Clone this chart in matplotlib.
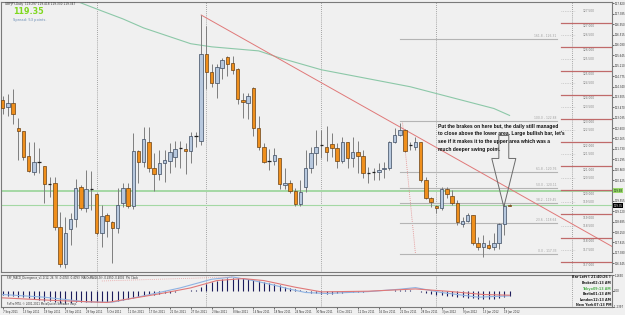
import numpy as np
import matplotlib.pyplot as plt
import matplotlib.transforms as mtransforms
from matplotlib.patches import Polygon

# daily GBPJPY candles, 7 Sep 2011 .. 20 Jan 2012
opens = [123.79, 123.50, 123.67, 122.62, 122.46, 121.42, 120.75, 121.17, 121.00, 120.25,
         120.29, 118.46, 116.92, 118.38, 118.79, 120.13, 119.25, 120.04, 119.83, 118.21,
         118.96, 118.67, 118.42, 119.46, 120.08, 119.33, 121.63, 121.17, 122.00, 120.92,
         120.67, 121.13, 121.21, 121.38, 121.75, 121.71, 121.63, 122.25, 122.08, 125.71,
         124.96, 124.50, 125.13, 125.58, 125.33, 125.08, 123.79, 123.67, 124.29, 122.62,
         121.83, 121.21, 121.21, 121.33, 120.21, 120.29, 119.96, 119.42, 120.13, 120.92,
         121.54, 121.88, 121.83, 121.92, 121.75, 121.21, 122.00, 121.33, 121.58, 121.42,
         120.71, 120.75, 120.75, 120.88, 120.92, 122.00, 122.33, 122.54, 121.88, 121.83,
         122.00, 120.42, 119.67, 119.33, 119.25, 120.04, 119.75, 119.46, 118.58, 118.71,
         118.96, 117.79, 117.63, 117.71, 117.63, 117.79, 118.58, 119.37]
highs = [123.96, 124.04, 124.25, 123.04, 122.46, 122.00, 122.00, 121.75, 121.02, 120.54,
         120.54, 119.08, 118.88, 119.04, 120.46, 120.21, 120.83, 120.79, 119.88, 119.38,
         119.04, 118.70, 120.08, 120.29, 120.29, 122.38, 121.67, 122.63, 122.63, 121.54,
         121.67, 121.67, 121.96, 122.08, 122.08, 121.96, 122.42, 122.42, 127.33, 126.88,
         125.29, 125.29, 125.54, 125.63, 125.63, 125.10, 124.08, 124.08, 124.30, 123.12,
         121.96, 121.71, 121.75, 121.35, 120.92, 120.42, 120.08, 120.42, 121.67, 121.79,
         122.50, 122.50, 122.67, 122.38, 121.96, 122.21, 122.02, 122.21, 122.08, 121.67,
         120.96, 120.92, 121.13, 121.17, 122.08, 122.62, 122.82, 122.56, 122.00, 122.21,
         122.02, 120.54, 119.71, 119.38, 120.13, 120.13, 120.00, 119.58, 118.88, 119.04,
         118.98, 118.04, 118.13, 117.92, 118.21, 118.63, 119.42, 119.42]
lows = [123.21, 123.12, 122.79, 121.25, 121.25, 120.75, 120.63, 120.71, 119.46, 119.71,
        118.33, 116.79, 116.75, 117.71, 118.46, 119.17, 119.08, 119.17, 118.13, 117.63,
        118.04, 116.96, 118.21, 119.29, 119.25, 119.21, 120.29, 120.96, 120.75, 119.96,
        120.42, 120.33, 120.71, 120.96, 120.92, 120.67, 121.13, 121.79, 121.88, 124.25,
        124.33, 123.87, 124.67, 124.79, 124.88, 123.62, 123.04, 122.96, 122.29, 121.67,
        121.13, 120.83, 121.04, 120.04, 120.04, 119.88, 119.33, 119.33, 119.92, 120.71,
        121.04, 121.33, 121.21, 121.38, 120.92, 121.13, 120.92, 120.96, 120.71, 120.50,
        120.29, 120.42, 120.42, 120.50, 120.83, 121.96, 122.29, 121.58, 121.67, 121.67,
        120.33, 119.63, 119.29, 119.04, 119.17, 119.67, 119.38, 118.54, 118.46, 118.67,
        117.71, 117.50, 117.21, 117.54, 117.50, 117.54, 118.13, 119.33]
closes = [123.46, 123.67, 123.21, 122.46, 121.38, 120.79, 121.17, 121.17, 120.25, 120.25,
          118.46, 116.92, 118.21, 118.79, 120.08, 119.25, 120.04, 120.04, 118.21, 118.92,
          118.71, 118.42, 119.38, 120.08, 119.33, 121.63, 121.17, 122.13, 120.92, 120.67,
          121.13, 121.25, 121.58, 121.71, 121.75, 121.63, 122.25, 122.25, 125.71, 124.96,
          124.50, 125.17, 125.46, 125.29, 125.04, 123.83, 123.71, 123.96, 122.62, 121.83,
          121.17, 121.21, 121.46, 120.25, 120.29, 119.96, 119.42, 119.92, 120.92, 121.54,
          121.83, 121.88, 121.58, 121.75, 121.21, 122.00, 121.33, 121.58, 121.42, 120.71,
          120.71, 120.75, 120.83, 120.92, 122.00, 122.33, 122.54, 121.63, 121.88, 122.00,
          120.42, 119.67, 119.50, 119.25, 120.04, 119.83, 119.46, 118.67, 118.71, 118.96,
          117.79, 117.63, 117.79, 117.58, 117.79, 118.58, 119.33, 119.35]

date_labels = ["7 Sep 2011", "13 Sep 2011", "19 Sep 2011", "23 Sep 2011", "29 Sep 2011",
               "5 Oct 2011", "11 Oct 2011", "17 Oct 2011", "21 Oct 2011", "27 Oct 2011",
               "2 Nov 2011", "8 Nov 2011", "14 Nov 2011", "18 Nov 2011", "24 Nov 2011",
               "30 Nov 2011", "6 Dec 2011", "12 Dec 2011", "16 Dec 2011", "22 Dec 2011",
               "28 Dec 2011", "3 Jan 2012", "9 Jan 2012", "13 Jan 2012", "19 Jan 2012"]
month_sep_bars = [18, 39, 61, 83, 109]

# green moving average
ma_bars = [12, 14, 19, 23, 27, 36, 40, 49, 53, 61, 78, 94, 97]
ma_vals = [128.05, 127.92, 127.50, 127.17, 126.79, 126.13, 126.00, 125.83, 125.54, 125.04, 124.33, 123.42, 123.13]

# red trend line anchors (bar, price)
trend_pts = [(38, 127.33), (76, 122.65)]
# fibonacci anchors: 100% and 0%
fib_hi = (76.5, 122.88)
fib_lo = (79.0, 117.33)
fib_levels = [0.0, 23.6, 38.2, 50.0, 61.8, 100.0, 161.8]
green_lines = [119.98, 119.38]
round_levels = [117, 118, 119, 120, 121, 122, 123, 124, 125, 126, 127]
price_ticks = [127.820, 127.385, 126.950, 126.515, 126.080, 125.645, 125.210, 124.775,
               124.340, 123.905, 123.470, 123.035, 122.600, 122.165, 121.730, 121.295,
               120.860, 120.425, 119.555, 119.120, 118.685, 118.250, 117.815,
               117.380, 116.945]

# MACD panel
hist = [-0.35, -0.38, -0.42, -0.46, -0.50, -0.58, -0.64, -0.70, -0.76, -0.80,
        -0.86, -0.92, -0.95, -0.94, -0.90, -0.88, -0.86, -0.86, -0.88, -0.86,
        -0.84, -0.82, -0.76, -0.70, -0.64, -0.55, -0.48, -0.40, -0.34, -0.30,
        -0.26, -0.20, -0.15, -0.10, -0.06, -0.03, 0.02, 0.06, 0.30, 0.50,
        0.62, 0.75, 0.85, 0.92, 0.98, 0.96, 0.92, 0.88, 0.80, 0.70,
        0.62, 0.54, 0.46, 0.38, 0.30, 0.20, 0.10, 0.02, -0.08, -0.15,
        -0.22, -0.26, -0.28, -0.26, -0.22, -0.18, -0.14, -0.12, -0.10, -0.08,
        -0.07, -0.06, -0.06, -0.05, -0.03, 0.02, 0.06, 0.05, 0.02, -0.02,
        -0.12, -0.20, -0.26, -0.32, -0.35, -0.38, -0.42, -0.46, -0.50, -0.54,
        -0.58, -0.60, -0.62, -0.62, -0.60, -0.55, -0.48, -0.44]
blue_bars = [0, 8, 16, 21, 27, 34, 40, 44, 48, 52, 55, 58, 62, 70, 76, 79, 84, 91, 97]
blue_vals = [-0.30, -0.50, -0.85, -0.88, -0.40, 0.20, 0.85, 1.02, 0.75, 0.40, 0.10, -0.15,
             -0.22, -0.08, 0.10, 0.22, -0.15, -0.50, -0.40]
red_bars = [0, 10, 20, 30, 36, 41, 46, 50, 56, 61, 70, 79, 85, 92, 97]
red_vals = [-0.55, -0.75, -0.90, -0.25, 0.20, 0.75, 0.90, 0.75, 0.25, -0.10, -0.05, 0.12,
            -0.05, -0.30, -0.35]

bg = '#f0f0f0'
bull_fill, bull_edge = '#b7c8de', '#3c4a60'
bear_fill, bear_edge = '#ef8f1c', '#6a4216'
tiny = 2.1

fig = plt.figure(figsize=(6.25, 3.15), dpi=100, facecolor=bg)
ax = fig.add_axes([1/625, 1-272/315, 611/625, 270/315])
mx = fig.add_axes([1/625, 1-307/315, 611/625, 32/315])
for a in (ax, mx):
    a.set_facecolor(bg)
    a.set_xlim(-0.3, 116.6)
    for s in a.spines.values():
        s.set_color('#7a7a7a')
        s.set_linewidth(0.8)
ax.set_ylim(116.58, 127.875)
mx.set_ylim(-1.24, 1.17)

n = len(opens)
bars = np.arange(n)
o, h, l, c = map(np.array, (opens, highs, lows, closes))

# period separators
for b in month_sep_bars:
    ax.axvline(b, color='#8a8a8a', lw=0.6, ls=(0, (1, 1.5)))
    mx.axvline(b, color='#8a8a8a', lw=0.6, ls=(0, (1, 1.5)))

# horizontal green levels
for i, g in enumerate(green_lines):
    ax.axhline(g, color='#a4d8a4', lw=1.4 if i == 0 else 0.8)

# moving average
ax.plot(ma_bars, ma_vals, color='#8cc8a8', lw=0.8)

# fibonacci
rng = fib_hi[1] - fib_lo[1]
ax.plot([fib_hi[0], fib_lo[0]], [fib_hi[1], fib_lo[1]], color='#e08080', lw=0.6, ls=(0, (1, 1.5)))
for lv in fib_levels:
    pr = fib_lo[1] + rng * lv / 100
    ax.plot([76, 106], [pr, pr], color='#b4b4b4', lw=0.8)
    ax.text(106, pr + 0.04, '%.1f - %.2f' % (lv, pr), fontsize=2.2, color='#a0a0a0',
            ha='right', va='bottom')

# trend line as a ray from the first anchor
(x0, y0), (x1, y1) = trend_pts
slope = (y1 - y0) / (x1 - x0)
xr = 116.6
ax.plot([x0, xr], [y0, y0 + slope * (xr - x0)], color='#e07878', lw=0.7)

# round number levels on the right
for lv in round_levels:
    ax.plot([106.8, 116.6], [lv, lv], color='#c06a6a', lw=0.9)
    ax.text(112.2, lv - 0.06, '%.3f' % lv, fontsize=tiny, color='#707070', ha='center', va='top')
    ax.plot([106.8, 109.5], [lv + 0.5, lv + 0.5], color='#b0b0b0', lw=0.5, ls=(0, (1, 1.5)))
    ax.text(112.2, lv + 0.5, '%.3f' % (lv + 0.5), fontsize=tiny, color='#808080',
            ha='center', va='center')

# candles
w = 0.66
for i in range(n):
    up = c[i] > o[i]
    down = c[i] < o[i]
    ax.vlines(i, l[i], h[i], color='#7e7e7e', lw=0.7, zorder=3)
    if up or down:
        ax.bar(i, abs(c[i] - o[i]), bottom=min(o[i], c[i]), width=w,
               color=bull_fill if up else bear_fill,
               edgecolor=bull_edge if up else bear_edge, linewidth=0.5, zorder=4)
    else:
        ax.hlines(o[i], i - w / 2, i + w / 2, color='#202020', lw=0.9, zorder=4)

# annotation and hollow arrow
ax.text(83.3, 122.78,
        "Put the brakes on here but, the daily still managed\n"
        "to close above the lower area. Large bullish bar, let's\n"
        "see if it makes it to the upper area which was a\n"
        "much deeper swing point.",
        fontsize=3.6, fontweight='bold', family=['Liberation Sans', 'DejaVu Sans'],
        ha='left', va='top', linespacing=1.65, color='#101010', zorder=6)
tip = (95.9, 119.30)
arrow = [(tip[0] - 0.95, 122.29), (tip[0] + 0.95, 122.29), (tip[0] + 0.95, 121.33),
         (tip[0] + 2.3, 121.33), tip, (tip[0] - 2.3, 121.33), (tip[0] - 0.95, 121.33)]
ax.add_patch(Polygon(arrow, closed=True, facecolor='none', edgecolor='#6a6a6a', lw=0.7, zorder=6))

# price axis
ax.yaxis.tick_right()
ax.set_yticks(price_ticks)
ax.set_yticklabels(['%.3f' % t for t in price_ticks])
ax.tick_params(axis='y', labelsize=1.9, length=1.2, pad=0.5, colors='#303030', width=0.5)
ax.set_xticks([])
trans = mtransforms.blended_transform_factory(ax.transAxes, ax.transData)
ax.text(1.002, 119.98, '119.98', transform=trans, fontsize=1.9, color='#103010',
        va='center', ha='left', bbox=dict(boxstyle='square,pad=0.2', fc='#9ad86a', ec='none'))
ax.text(1.002, 119.35, '119.35', transform=trans, fontsize=1.9, color='white',
        va='center', ha='left', bbox=dict(boxstyle='square,pad=0.2', fc='black', ec='none'))

# header
fig.text(5/625, 1-4/315, 'GBPJPY,Daily  119.297 119.418 119.330 119.347', fontsize=tiny,
         color='#303030', va='center')
fig.text(13/625, 1-12/315, '119.35', fontsize=5.8, color='#7fd81f', fontweight='bold', va='center')
fig.text(13/625, 1-20/315, 'Spread: 53 points.', fontsize=2.6, color='#6a8cb4', va='center')

# MACD panel
mx.vlines(bars, 0, hist, color='#1c1c5c', lw=0.8)
mx.plot(blue_bars, blue_vals, color='#8eb2e2', lw=0.8)
mx.plot(red_bars, red_vals, color='#e07878', lw=0.8)
mx.plot([19, 44], [0.72, 1.02], color='#e8a0a0', lw=0.6, ls=(0, (1, 1.5)))
mx.text(0.8, 1.08, 'FXF_MACD_Divergence_v1.1(12, 26, 9) -0.4350 -0.4093  MA(OsMA(26,9)) -0.4350 -0.4005  Phi Clock',
        fontsize=1.9, color='#303030', va='top', ha='left')
mx.text(0.8, -1.18, 'FxPro MT4, \u00a9 2001-2011 MetaQuotes Software Corp.', fontsize=1.9,
        color='#303030', va='bottom', ha='left')
mx.yaxis.tick_right()
mx.set_yticks([1.169, 0.0, -1.2397])
mx.set_yticklabels(['1.1690', '0.00', '-1.2397'])
mx.tick_params(axis='y', labelsize=1.9, length=1.2, pad=0.5, colors='#303030', width=0.5)
mx.set_xticks(bars[::4][:len(date_labels)])
mx.set_xticklabels(date_labels, ha='left')
mx.tick_params(axis='x', labelsize=1.9, length=1.5, pad=1, colors='#303030', width=0.5)

info_names = ['Broker', 'Tokyo', 'Berlin', 'London', 'New York']
info_times = ['02:13 AM', '09:13 AM', '01:13 AM', '12:13 AM', '07:13 PM']
fig.text(611/625, 1-277/315, 'Bar Left [ 21:40:26 ]', fontsize=2.4, fontweight='bold',
         ha='right', va='center', color='#202020')
for k, (nm, tm) in enumerate(zip(info_names, info_times)):
    col = '#50b050' if nm == 'Tokyo' else '#202020'
    yy = 1 - (283 + 5.6 * k) / 315
    fig.text(594/625, yy, nm, fontsize=2.4, fontweight='bold', ha='right', va='center', color=col)
    fig.text(611/625, yy, tm, fontsize=2.4, fontweight='bold', ha='right', va='center', color=col)

fig.savefig('out.png', dpi=100, facecolor=bg)
